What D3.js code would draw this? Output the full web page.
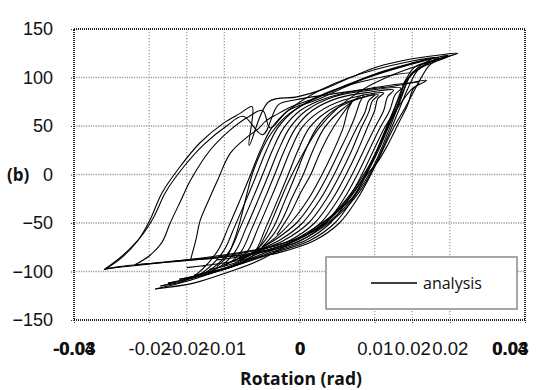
<!DOCTYPE html>
<html><head><meta charset="utf-8">
<script src="https://cdn.jsdelivr.net/npm/d3@7"></script>
<style>
html,body{margin:0;padding:0;background:#fff;}
svg{display:block;}
</style></head>
<body><svg id="chart" width="546" height="390"></svg>
<script>
// ---- data (rotation in rad, moment) ----
const xTicks = [-0.03,-0.02,-0.015,-0.01,0,0.01,0.015,0.02,0.03];
const xTickLabels = ["-0.03","-0.02","-0.02","-0.01","0","0.01","0.02","0.02","0.03"];
const xOverlayTicks = [-0.03,0,0.03];
const xOverlayLabels = ["-0.04","0","0.04"];
const yTicks = [-150,-100,-50,0,50,100,150];
const legendLabel = "analysis";
const xTitle = "Rotation (rad)";
const panelLabel = "(b)";

// outer / left cycles
const p01 = [[-0.0260,-98],[-0.0240,-88],[-0.0215,-68],[-0.0199,-47],[-0.0183,-19],[-0.0159,8],[-0.0132,33],[-0.0101,53],[-0.0079,63],[-0.0063,70],[-0.0067,30],[-0.0041,75],[-0.0003,80],[0.0032,88],[0.0068,100],[0.0104,111],[0.0148,119],[0.0184,123],[0.0211,125],[0.0175,117],[0.0152,110],[0.0140,95],[0.0127,70],[0.0112,42],[0.0097,15],[0.0080,-10],[0.0055,-35],[0.0025,-55],[-0.0010,-68],[-0.0050,-77],[-0.0100,-84],[-0.0160,-89],[-0.0220,-94],[-0.0258,-97]];
const p02 = [[-0.0258,-97],[-0.0236,-84],[-0.0211,-64],[-0.0194,-44],[-0.0178,-18],[-0.0154,8],[-0.0127,31],[-0.0097,50],[-0.0075,60],[-0.0049,41],[-0.0028,72],[-0.0005,77],[0.0035,82],[0.0080,87],[0.0125,91],[0.0169,97],[0.0152,89],[0.0144,72],[0.0130,50],[0.0117,30],[0.0104,13],[0.0090,0],[0.0068,-26],[0.0035,-47],[-0.0005,-67],[-0.0052,-88],[-0.0096,-101],[-0.0141,-112],[-0.0192,-118]];
const p03 = [[-0.0192,-118],[-0.0150,-110],[-0.0110,-100],[-0.0080,-92],[-0.0060,-82],[-0.0045,-62],[-0.0030,-35],[-0.0015,-8],[0.0005,22],[0.0025,47],[0.0050,68],[0.0085,88],[0.0125,103],[0.0165,114],[0.0200,122],[0.0180,116],[0.0158,108],[0.0145,90],[0.0132,66],[0.0118,40],[0.0102,12],[0.0085,-12],[0.0060,-36],[0.0030,-55],[-0.0005,-70],[-0.0050,-80],[-0.0110,-86],[-0.0170,-90],[-0.0219,-93]];
const p04 = [[-0.0219,-93],[-0.0200,-84],[-0.0183,-70],[-0.0172,-50],[-0.0158,-27],[-0.0145,-6],[-0.0119,25],[-0.0092,46],[-0.0069,59],[-0.0049,66],[-0.0039,48],[-0.0015,66],[0.0020,76],[0.0060,90],[0.0100,103],[0.0140,112],[0.0180,120],[0.0198,123],[0.0172,115],[0.0150,105],[0.0137,84],[0.0123,58],[0.0108,30],[0.0092,5],[0.0072,-18],[0.0045,-42],[0.0015,-60],[-0.0025,-74],[-0.0080,-83],[-0.0145,-88]];
const p05 = [[-0.0145,-88],[-0.0138,-68],[-0.0132,-47],[-0.0120,-25],[-0.0109,-6],[-0.0092,22],[-0.0069,39],[-0.0055,47],[-0.0045,55],[-0.0030,62],[-0.0010,70],[0.0025,80],[0.0065,93],[0.0105,105],[0.0145,114],[0.0185,121],[0.0165,112],[0.0145,100],[0.0133,80],[0.0120,55],[0.0105,28],[0.0088,3],[0.0068,-20],[0.0042,-43],[0.0010,-62],[-0.0030,-75],[-0.0075,-84],[-0.0110,-88]];
const p06 = [[-0.0110,-95],[-0.0096,-84],[-0.0086,-66],[-0.0077,-42],[-0.0070,-20],[-0.0063,0],[-0.0052,22],[-0.0038,42],[-0.0018,60],[0.0010,74],[0.0050,88],[0.0095,101],[0.0140,112],[0.0175,119],[0.0160,112],[0.0146,100],[0.0136,80],[0.0122,52],[0.0108,25],[0.0096,5],[0.0080,-15],[0.0055,-38],[0.0025,-56],[-0.0010,-68],[-0.0060,-78],[-0.0120,-85],[-0.0190,-91],[-0.0240,-95],[-0.0260,-98]];

// central bundle of cycles
const b01 = [[-0.0030,-62],[-0.0012,-40],[0.0002,-18],[0.0015,0],[0.0027,22],[0.0040,42],[0.0055,60],[0.0070,75],[0.0065,68],[0.0058,48],[0.0045,24],[0.0030,0],[0.0012,-25],[-0.0012,-50],[-0.0032,-65],[-0.0050,-75]];
const b02 = [[-0.0050,-75],[-0.0035,-62],[-0.0022,-45],[-0.0010,-24],[0.0005,0],[0.0018,25],[0.0033,48],[0.0055,66],[0.0085,82],[0.0080,74],[0.0074,60],[0.0066,45],[0.0053,24],[0.0038,0],[0.0020,-25],[-0.0004,-50],[-0.0030,-66],[-0.0065,-82]];
const b03 = [[-0.0065,-82],[-0.0050,-72],[-0.0035,-55],[-0.0020,-28],[-0.0005,0],[0.0008,25],[0.0023,48],[0.0045,66],[0.0075,77],[0.0100,82],[0.0092,76],[0.0087,64],[0.0076,48],[0.0061,24],[0.0046,0],[0.0028,-25],[0.0004,-50],[-0.0025,-67],[-0.0060,-80],[-0.0080,-88]];
const b04 = [[-0.0080,-88],[-0.0060,-80],[-0.0045,-55],[-0.0030,-28],[-0.0015,0],[-0.0002,25],[0.0013,48],[0.0035,64],[0.0068,76],[0.0105,82],[0.0097,76],[0.0092,64],[0.0082,48],[0.0069,24],[0.0054,0],[0.0036,-25],[0.0012,-50],[-0.0021,-68],[-0.0066,-82],[-0.0100,-93]];
const b05 = [[-0.0100,-93],[-0.0085,-88],[-0.0070,-80],[-0.0055,-55],[-0.0040,-28],[-0.0025,0],[-0.0012,25],[0.0003,48],[0.0025,64],[0.0060,77],[0.0112,84],[0.0104,78],[0.0100,66],[0.0090,48],[0.0077,24],[0.0062,0],[0.0044,-25],[0.0020,-50],[-0.0013,-68],[-0.0058,-80],[-0.0085,-91],[-0.0120,-98]];
const b06 = [[-0.0120,-98],[-0.0095,-92],[-0.0078,-80],[-0.0063,-55],[-0.0048,-28],[-0.0033,0],[-0.0020,25],[-0.0005,48],[0.0017,66],[0.0052,79],[0.0095,85],[0.0125,87],[0.0117,80],[0.0112,66],[0.0100,48],[0.0085,24],[0.0070,0],[0.0052,-25],[0.0028,-50],[-0.0005,-68],[-0.0050,-80],[-0.0095,-95],[-0.0140,-104]];
const b07 = [[-0.0140,-104],[-0.0110,-97],[-0.0086,-80],[-0.0071,-55],[-0.0056,-28],[-0.0041,0],[-0.0028,25],[-0.0013,48],[0.0009,66],[0.0045,80],[0.0095,87],[0.0135,89],[0.0127,82],[0.0120,66],[0.0107,48],[0.0092,24],[0.0077,0],[0.0059,-25],[0.0035,-50],[0.0002,-68],[-0.0043,-80],[-0.0100,-97],[-0.0160,-108]];
const b08 = [[-0.0160,-108],[-0.0125,-101],[-0.0094,-80],[-0.0079,-55],[-0.0064,-28],[-0.0049,0],[-0.0036,25],[-0.0021,48],[0.0001,66],[0.0040,80],[0.0095,89],[0.0159,94],[0.0148,87],[0.0128,66],[0.0113,48],[0.0098,24],[0.0083,0],[0.0065,-25],[0.0041,-50],[0.0008,-68],[-0.0037,-80],[-0.0105,-99],[-0.0175,-112]];
const b09 = [[-0.0175,-112],[-0.0135,-104],[-0.0102,-80],[-0.0087,-55],[-0.0072,-28],[-0.0057,0],[-0.0044,25],[-0.0029,48],[-0.0007,66],[0.0035,84],[0.0095,98],[0.0150,104],[0.0140,96],[0.0130,68],[0.0117,48],[0.0103,24],[0.0089,0],[0.0071,-25],[0.0047,-50],[0.0014,-68],[-0.0031,-80],[-0.0110,-100],[-0.0185,-115]];
const b10 = [[-0.0185,-115],[-0.0145,-107],[-0.0110,-80],[-0.0095,-55],[-0.0080,-28],[-0.0065,0],[-0.0052,25],[-0.0037,48],[-0.0015,66],[0.0030,88],[0.0100,108],[0.0185,120],[0.0172,112],[0.0140,68],[0.0125,48],[0.0110,24],[0.0095,0],[0.0077,-25],[0.0053,-50],[0.0020,-68],[-0.0025,-80],[-0.0090,-90],[-0.0150,-96]];

const seriesList = [p01,p02,p03,p04,p05,p06,b01,b02,b03,b04,b05,b06,b07,b08,b09,b10];

// ---- drawing ----
const svg = d3.select("#chart");
const L = 74, R = 525, T = 29, B = 320;
const x = d3.scaleLinear().domain([-0.03,0.03]).range([L,R]);
const y = d3.scaleLinear().domain([-150,150]).range([B,T]);
const tickFont = "'Liberation Sans', Arial, sans-serif";
const textFont = "'Open Sans', sans-serif";
const tickSizePx = 18.5;

// gridlines
const grid = svg.append("g");
grid.selectAll("line.vg").data(xTicks.filter(v => v > -0.03 && v < 0.03)).join("line")
  .attr("x1", d => x(d)).attr("x2", d => x(d)).attr("y1", T).attr("y2", B)
  .attr("stroke", "#9a9a9a").attr("stroke-width", 1.2).attr("stroke-dasharray", "1.2,1.8");
grid.selectAll("line.hg").data(yTicks.filter(v => v > -150 && v < 150)).join("line")
  .attr("x1", L).attr("x2", R).attr("y1", d => y(d)).attr("y2", d => y(d))
  .attr("stroke", "#9a9a9a").attr("stroke-width", 1.6).attr("stroke-dasharray", "1.2,1.2");

// curves
const line = d3.line().x(d => x(d[0])).y(d => y(d[1])).curve(d3.curveCatmullRom.alpha(0.5));
svg.append("g").selectAll("path").data(seriesList).join("path")
  .attr("d", line).attr("fill", "none").attr("stroke", "#000").attr("stroke-width", 1.1)
  .attr("stroke-linejoin", "round");

// frame
svg.append("rect").attr("x", L).attr("y", T).attr("width", R - L).attr("height", B - T)
  .attr("fill", "none").attr("stroke", "#222").attr("stroke-width", 2).attr("stroke-dasharray", "1,1");

// y axis
const yAxis = d3.axisLeft(y).tickValues(yTicks).tickSize(4).tickPadding(17).tickFormat(d3.format("d"));
const gy = svg.append("g").attr("transform", `translate(${L},0)`).call(yAxis);
gy.select(".domain").remove();
gy.selectAll(".tick line").attr("stroke", "#333").attr("stroke-dasharray", "1,1");
gy.selectAll(".tick text").attr("font-family", tickFont).attr("font-size", 18).attr("fill", "#111");

// x axis
const xAxis = d3.axisBottom(x).tickValues(xTicks).tickSize(4).tickPadding(18)
  .tickFormat((d, i) => xTickLabels[i]);
const gx = svg.append("g").attr("transform", `translate(0,${B})`).call(xAxis);
gx.select(".domain").remove();
gx.selectAll(".tick line").attr("stroke", "#333").attr("stroke-dasharray", "1,1");
gx.selectAll(".tick text").attr("font-family", tickFont).attr("font-size", tickSizePx).attr("fill", "#111")
  .attr("font-weight", d => xOverlayTicks.includes(d) ? "bold" : "normal")
  .attr("text-anchor", d => d === 0.03 ? "end" : "middle")
  .attr("dx", d => d === 0.03 ? 3 : 0);
// overlapping duplicate labels from the secondary axis
gx.selectAll("text.ov").data(xOverlayTicks).join("text").attr("class", "ov")
  .attr("x", d => x(d) + (d === 0 ? 1 : 0)).attr("y", 22).attr("dy", "0.71em")
  .attr("dx", d => d === 0.03 ? 3 : 0)
  .attr("text-anchor", d => d === 0.03 ? "end" : "middle")
  .attr("font-family", tickFont).attr("font-size", tickSizePx).attr("font-weight", "bold").attr("fill", "#111")
  .text((d, i) => xOverlayLabels[i]);

// titles
svg.append("text").attr("x", 301).attr("y", 385).attr("text-anchor", "middle")
  .attr("font-family", textFont).attr("font-weight", "bold").attr("font-size", 17.5)
  .attr("fill", "#111").text(xTitle);
svg.append("text").attr("x", 7).attr("y", 181)
  .attr("font-family", textFont).attr("font-weight", "bold").attr("font-size", 17)
  .attr("fill", "#111").text(panelLabel);

// legend
const lg = svg.append("g");
lg.append("rect").attr("x", 326).attr("y", 257).attr("width", 191).attr("height", 52)
  .attr("fill", "#fff").attr("stroke", "#8a8a8a").attr("stroke-width", 1.5);
lg.append("line").attr("x1", 371).attr("x2", 417).attr("y1", 283).attr("y2", 283)
  .attr("stroke", "#000").attr("stroke-width", 1.5);
lg.append("text").attr("x", 423).attr("y", 289)
  .attr("font-family", textFont).attr("font-size", 16).attr("fill", "#111").text(legendLabel);
</script>
</body></html>
